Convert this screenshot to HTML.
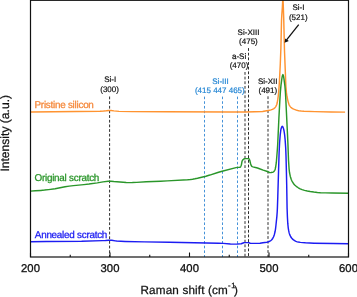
<!DOCTYPE html>
<html><head><meta charset="utf-8"><title>Raman spectra</title>
<style>html,body{margin:0;padding:0;background:#fff;}body{width:357px;height:297px;overflow:hidden;}svg{display:block;} text{text-rendering:geometricPrecision;}</style>
</head><body>
<svg width="357" height="297" viewBox="0 0 357 297">
<rect width="357" height="297" fill="#fff"/>
<line x1="109.6" y1="96.5" x2="109.6" y2="257" stroke="#2e2e2e" stroke-width="1.0" stroke-dasharray="2.8 1.86"/>
<line x1="204.5" y1="96.6" x2="204.5" y2="257" stroke="#4592d8" stroke-width="1.0" stroke-dasharray="2.6 2.06"/>
<line x1="222.5" y1="96.6" x2="222.5" y2="257" stroke="#4592d8" stroke-width="1.0" stroke-dasharray="2.6 2.06"/>
<line x1="237.5" y1="96.6" x2="237.5" y2="257" stroke="#4592d8" stroke-width="1.0" stroke-dasharray="2.6 2.06"/>
<line x1="245.0" y1="72.0" x2="245.0" y2="257" stroke="#2e2e2e" stroke-width="1.0" stroke-dasharray="2.8 1.86"/>
<line x1="248.5" y1="48.1" x2="248.5" y2="257" stroke="#2e2e2e" stroke-width="1.0" stroke-dasharray="2.8 1.86"/>
<line x1="268.0" y1="96.3" x2="268.0" y2="257" stroke="#2e2e2e" stroke-width="1.0" stroke-dasharray="2.8 1.86"/>
<defs><clipPath id="c"><rect x="30.5" y="0" width="318" height="257"/></clipPath></defs>
<g clip-path="url(#c)" fill="none" stroke-width="1.45" stroke-linejoin="round">
<path d="M30.50,112.00 L100.00,111.20 L103.60,111.00 L106.30,110.77 L108.90,110.46 L110.00,110.40 L111.20,110.48 L113.90,110.89 L119.00,111.36 L132.00,111.63 L166.50,111.81 L229.70,111.99 L245.50,111.97 L254.60,111.79 L262.60,111.46 L269.40,110.34 L271.00,109.92 L272.40,109.39 L273.90,108.57 L274.40,108.20 L274.90,107.73 L275.40,107.13 L275.90,106.37 L276.70,104.75 L277.20,102.80 L277.70,99.97 L278.20,96.50 L278.60,92.72 L279.10,86.65 L279.40,81.87 L280.30,63.71 L280.90,48.00 L281.50,21.00 L281.80,15.14 L282.40,6.82 L282.80,-1.28 L282.90,-2.00 L283.00,-1.20 L283.10,0.81 L283.70,17.53 L284.50,51.08 L285.90,86.49 L286.40,92.17 L286.70,94.54 L287.10,97.00 L287.70,99.87 L288.30,102.30 L288.90,104.21 L289.40,105.33 L290.10,106.36 L290.80,107.17 L291.60,107.89 L292.60,108.56 L293.80,109.14 L296.90,110.31 L297.90,110.61 L298.80,110.75 L301.20,110.99 L304.00,111.17 L315.00,111.60 L331.10,111.94 L345.10,112.10" stroke="#ff9330"/>
<path d="M30.50,191.10 L35.30,190.84 L40.80,190.43 L44.50,190.09 L48.60,189.60 L55.10,188.68 L65.10,186.78 L69.20,186.11 L73.50,185.60 L83.90,184.61 L89.00,184.03 L97.30,182.88 L103.00,181.88 L108.20,181.26 L109.60,181.20 L110.70,181.23 L113.80,181.58 L116.90,181.84 L126.20,182.48 L129.30,182.60 L132.40,182.57 L136.60,182.40 L146.30,181.82 L160.60,181.24 L167.30,180.90 L187.60,179.69 L190.40,179.46 L192.60,179.18 L194.90,178.78 L197.50,178.24 L205.90,176.19 L209.80,175.07 L217.80,172.52 L221.20,171.50 L236.00,167.65 L237.30,167.40 L239.50,167.27 L240.20,167.17 L240.40,167.01 L240.70,166.57 L241.30,165.20 L241.50,164.36 L242.00,161.43 L242.20,160.87 L242.50,160.32 L243.00,159.70 L243.80,159.03 L244.50,158.80 L245.60,158.62 L248.60,158.60 L248.80,158.67 L249.00,158.86 L249.40,159.50 L249.80,160.35 L250.60,163.78 L251.20,165.40 L251.60,166.11 L252.30,166.57 L253.00,166.85 L254.60,167.32 L257.50,168.06 L258.80,168.46 L263.20,170.13 L267.40,171.50 L269.00,172.30 L269.60,172.53 L270.10,172.60 L271.20,172.53 L272.30,172.33 L273.10,172.09 L273.60,171.75 L274.10,171.23 L274.70,170.37 L275.00,169.75 L275.30,168.71 L275.60,167.27 L276.30,162.69 L277.30,150.26 L277.70,144.30 L278.90,118.00 L279.80,101.15 L280.40,91.67 L281.00,85.10 L281.90,78.39 L282.30,76.20 L282.70,74.85 L282.90,74.60 L283.10,74.85 L283.50,76.20 L284.00,79.08 L284.90,85.95 L285.40,92.06 L285.90,101.21 L287.50,134.44 L288.00,146.00 L288.50,160.00 L289.10,169.00 L289.50,172.50 L290.30,176.38 L290.70,177.84 L291.20,179.32 L291.70,180.51 L292.30,181.68 L293.40,183.45 L294.70,185.01 L296.20,186.31 L298.30,187.77 L300.20,188.82 L302.10,189.63 L304.50,190.36 L307.30,191.02 L310.20,191.55 L313.80,192.05 L317.40,192.45 L320.50,192.68 L325.40,192.88 L332.10,193.05 L348.50,193.30" stroke="#2a962a"/>
<path d="M30.50,241.80 L46.40,241.50 L81.60,241.27 L102.70,240.62 L105.50,240.48 L108.60,240.16 L110.00,240.10 L111.80,240.26 L115.20,240.88 L116.60,241.07 L125.10,241.45 L144.30,241.89 L169.40,242.29 L218.80,243.22 L223.20,243.36 L230.40,243.97 L233.70,244.10 L237.30,244.04 L240.50,243.88 L241.20,243.70 L243.80,242.73 L244.50,242.60 L248.70,242.62 L249.20,242.78 L250.20,243.27 L250.70,243.40 L258.70,243.37 L260.00,243.22 L262.90,242.71 L266.80,242.22 L268.00,241.94 L269.10,241.52 L270.70,240.61 L271.20,240.25 L271.70,239.77 L272.70,238.45 L273.60,236.77 L274.40,234.41 L275.10,231.50 L275.50,229.05 L275.90,225.77 L276.90,216.13 L277.20,212.00 L277.40,207.98 L277.80,196.38 L279.10,152.79 L279.60,142.76 L280.20,135.03 L280.80,130.21 L281.10,128.64 L281.50,127.48 L281.90,126.63 L282.10,126.39 L282.30,126.30 L282.50,126.39 L282.80,126.83 L283.50,128.59 L283.90,130.24 L284.30,132.54 L284.70,135.45 L285.10,139.36 L285.70,148.00 L286.00,155.79 L286.40,171.35 L286.70,185.01 L287.10,208.42 L287.40,216.75 L287.80,223.68 L288.20,227.55 L288.60,230.15 L289.00,232.18 L289.30,233.38 L289.70,234.62 L290.60,236.50 L291.40,237.77 L292.30,238.86 L293.20,239.65 L294.60,240.59 L296.00,241.33 L297.30,241.84 L298.30,242.08 L300.40,242.39 L302.70,242.63 L305.40,242.83 L314.00,243.17 L333.30,243.59 L348.50,243.80" stroke="#1c1cf2"/>
</g>
<rect x="30.5" y="0.3" width="318.0" height="256.7" fill="none" stroke="#111" stroke-width="1.2"/>
<line x1="30.50" y1="257.0" x2="30.50" y2="252.5" stroke="#111" stroke-width="1.1"/>
<line x1="70.25" y1="257.0" x2="70.25" y2="254.7" stroke="#111" stroke-width="1.1"/>
<line x1="110.00" y1="257.0" x2="110.00" y2="252.5" stroke="#111" stroke-width="1.1"/>
<line x1="149.75" y1="257.0" x2="149.75" y2="254.7" stroke="#111" stroke-width="1.1"/>
<line x1="189.50" y1="257.0" x2="189.50" y2="252.5" stroke="#111" stroke-width="1.1"/>
<line x1="229.25" y1="257.0" x2="229.25" y2="254.7" stroke="#111" stroke-width="1.1"/>
<line x1="269.00" y1="257.0" x2="269.00" y2="252.5" stroke="#111" stroke-width="1.1"/>
<line x1="308.75" y1="257.0" x2="308.75" y2="254.7" stroke="#111" stroke-width="1.1"/>
<line x1="348.50" y1="257.0" x2="348.50" y2="252.5" stroke="#111" stroke-width="1.1"/>
<text x="30.50" y="271.7" font-size="11.3" text-anchor="middle" fill="#111" stroke="#111" stroke-width="0.3" font-family="'Liberation Sans', Arial, Helvetica, sans-serif">200</text>
<text x="110.00" y="271.7" font-size="11.3" text-anchor="middle" fill="#111" stroke="#111" stroke-width="0.3" font-family="'Liberation Sans', Arial, Helvetica, sans-serif">300</text>
<text x="189.50" y="271.7" font-size="11.3" text-anchor="middle" fill="#111" stroke="#111" stroke-width="0.3" font-family="'Liberation Sans', Arial, Helvetica, sans-serif">400</text>
<text x="269.00" y="271.7" font-size="11.3" text-anchor="middle" fill="#111" stroke="#111" stroke-width="0.3" font-family="'Liberation Sans', Arial, Helvetica, sans-serif">500</text>
<text x="348.50" y="271.7" font-size="11.3" text-anchor="middle" fill="#111" stroke="#111" stroke-width="0.3" font-family="'Liberation Sans', Arial, Helvetica, sans-serif">600</text>
<line x1="298.7" y1="24.6" x2="286.6" y2="39.8" stroke="#111" stroke-width="1.3"/>
<polygon points="284.6,42.7 285.2,38.4 288.9,41.0" fill="#111"/>
<g font-family="'Liberation Sans', Arial, Helvetica, sans-serif"><text transform="translate(298.4,10.4) scale(1.0,1)" font-size="8.0" text-anchor="middle" fill="#111" stroke="#111" stroke-width="0.2">Si-I</text>
<text transform="translate(298.3,19.9) scale(1.0,1)" font-size="8.0" text-anchor="middle" fill="#111" stroke="#111" stroke-width="0.2">(521)</text>
<text transform="translate(248.5,34.7) scale(1.0,1)" font-size="8.0" text-anchor="middle" fill="#111" stroke="#111" stroke-width="0.2">Si-XIII</text>
<text transform="translate(248.45,43.7) scale(1.0,1)" font-size="8.0" text-anchor="middle" fill="#111" stroke="#111" stroke-width="0.2">(475)</text>
<text transform="translate(239.1,58.9) scale(1.0,1)" font-size="8.0" text-anchor="middle" fill="#111" stroke="#111" stroke-width="0.2">a-Si</text>
<text transform="translate(239.0,67.9) scale(1.0,1)" font-size="8.0" text-anchor="middle" fill="#111" stroke="#111" stroke-width="0.2">(470)</text>
<text transform="translate(220.5,83.8) scale(1.0,1)" font-size="8.0" text-anchor="middle" fill="#2285d4" stroke="#2285d4" stroke-width="0.2">Si-III</text>
<text transform="translate(219.8,92.9) scale(1.0,1)" font-size="8.0" text-anchor="middle" fill="#2285d4" stroke="#2285d4" stroke-width="0.2">(415 447 465)</text>
<text transform="translate(267.75,84.2) scale(1.0,1)" font-size="8.0" text-anchor="middle" fill="#111" stroke="#111" stroke-width="0.2">Si-XII</text>
<text transform="translate(267.85,92.6) scale(1.0,1)" font-size="8.0" text-anchor="middle" fill="#111" stroke="#111" stroke-width="0.2">(491)</text>
<text transform="translate(110.2,81.8) scale(1.0,1)" font-size="8.0" text-anchor="middle" fill="#111" stroke="#111" stroke-width="0.2">Si-I</text>
<text transform="translate(109.6,91.9) scale(1.0,1)" font-size="8.0" text-anchor="middle" fill="#111" stroke="#111" stroke-width="0.2">(300)</text>
<text letter-spacing="-0.25" x="34.5" y="108.4" font-size="9.9" text-anchor="start" fill="#f5893c" stroke="#f5893c" stroke-width="0.3">Pristine silicon</text>
<text letter-spacing="-0.25" x="34.5" y="180.8" font-size="9.9" text-anchor="start" fill="#2a962a" stroke="#2a962a" stroke-width="0.3">Original scratch</text>
<text letter-spacing="-0.25" x="34.8" y="237.7" font-size="9.9" text-anchor="start" fill="#1c1cf2" stroke="#1c1cf2" stroke-width="0.3">Annealed scratch</text>
<text x="140.5" y="294.3" font-size="11.7" letter-spacing="0.16" text-anchor="start" fill="#111" stroke="#111" stroke-width="0.25">Raman shift (cm<tspan dy="-6" font-size="7.6">-</tspan><tspan dx="0.6" font-size="7.6">1</tspan><tspan dy="6" dx="-1.6">)</tspan></text>
<text transform="translate(9.0,133.3) rotate(-90)" font-size="12.1" stroke="#111" stroke-width="0.25" text-anchor="middle" fill="#111">Intensity (a.u.)</text></g></svg>
</body></html>
